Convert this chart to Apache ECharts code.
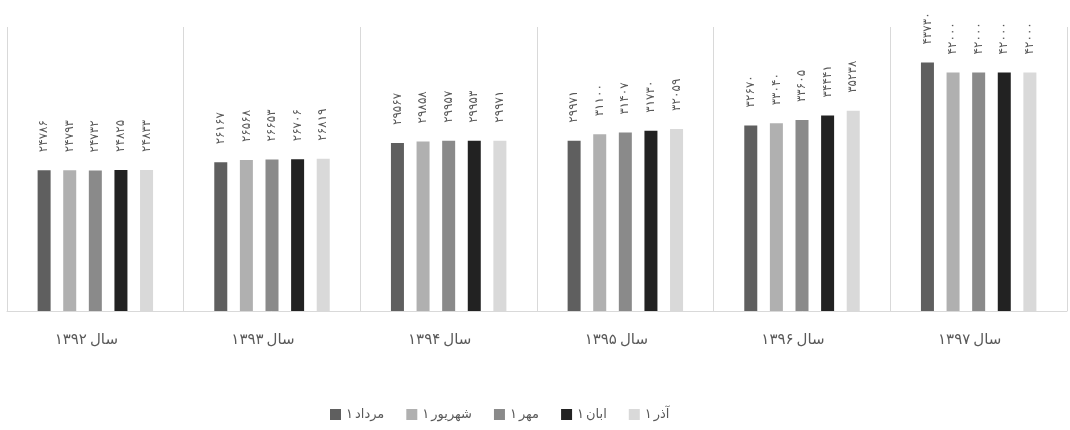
<!DOCTYPE html>
<html>
<head>
<meta charset="utf-8">
<script src="https://cdn.jsdelivr.net/npm/echarts@6/dist/echarts.min.js"></script>
<style>html,body{margin:0;padding:0;background:#fff}#c{width:1070px;height:430px}</style>
</head>
<body>
<div id="c"></div>
<script>
const years = ['۱۳۹۲', '۱۳۹۳', '۱۳۹۴', '۱۳۹۵', '۱۳۹۶', '۱۳۹۷'];
const categories = years.map(y => 'سال' + y);
const months = ['مرداد', 'شهریور', 'مهر', 'ابان', 'آذر'];
const seriesNames = months.map(m => '۱' + m);
const mordad   = [24786, 26167, 29567, 29971, 32670, 43730];
const shahrivar= [24793, 26568, 29858, 31100, 33040, 42000];
const mehr     = [24732, 26653, 29957, 31407, 33605, 42000];
const aban     = [24825, 26706, 29953, 31730, 34441, 42000];
const azar     = [24833, 26819, 29971, 32059, 35238, 42000];
const seriesData = [mordad, shahrivar, mehr, aban, azar];
const colors = ['#5f5f5f', '#b0b0b0', '#8a8a8a', '#222222', '#d9d9d9'];

const fa = n => String(n).replace(/\d/g, d => '۰۱۲۳۴۵۶۷۸۹'[d]);
const font = 'DejaVu Sans';

const chart = echarts.init(document.getElementById('c'));
chart.setOption({
  animation: false,
  textStyle: { fontFamily: font },
  grid: { left: 7, right: 3, top: 27, bottom: 119, containLabel: false },
  legend: {
    bottom: 4, left: 325, icon: 'rect', itemWidth: 11, itemHeight: 11, itemGap: 22,
    data: seriesNames,
    formatter: name => '{d|۱}{t|' + name.slice(1) + '}',
    textStyle: {
      color: '#595959', fontSize: 13, fontFamily: font,
      rich: {
        d: { color: '#595959', fontSize: 13, fontFamily: font, padding: [0, 2, 0, 0] },
        t: { color: '#595959', fontSize: 13, fontFamily: font }
      }
    }
  },
  xAxis: {
    type: 'category', data: categories,
    axisLine: { lineStyle: { color: '#d9d9d9', width: 1 } },
    axisTick: { show: false },
    splitLine: { show: true, lineStyle: { color: '#d9d9d9', width: 1 } },
    axisLabel: {
      color: '#595959', fontSize: 15, margin: 22, fontFamily: font,
      formatter: v => '{d|' + v.slice(3) + '}{s|' + v.slice(0, 3) + '}',
      rich: {
        d: { color: '#595959', fontSize: 15, fontFamily: font, padding: [0, 3, 0, 0] },
        s: { color: '#595959', fontSize: 15, fontFamily: font, padding: [0, 18, 0, 0] }
      }
    }
  },
  yAxis: { type: 'value', min: 0, max: 50000, show: false, splitLine: { show: false } },
  series: seriesData.map((d, i) => ({
    name: seriesNames[i], type: 'bar', data: d,
    barWidth: 13, barGap: '97%', barCategoryGap: '34%',
    itemStyle: { color: colors[i] },
    label: {
      show: true, position: 'top', rotate: 90, align: 'left', verticalAlign: 'middle',
      distance: 18, color: '#595959', fontSize: 12, fontFamily: font,
      formatter: p => fa(p.value)
    }
  }))
});
</script>
</body>
</html>
